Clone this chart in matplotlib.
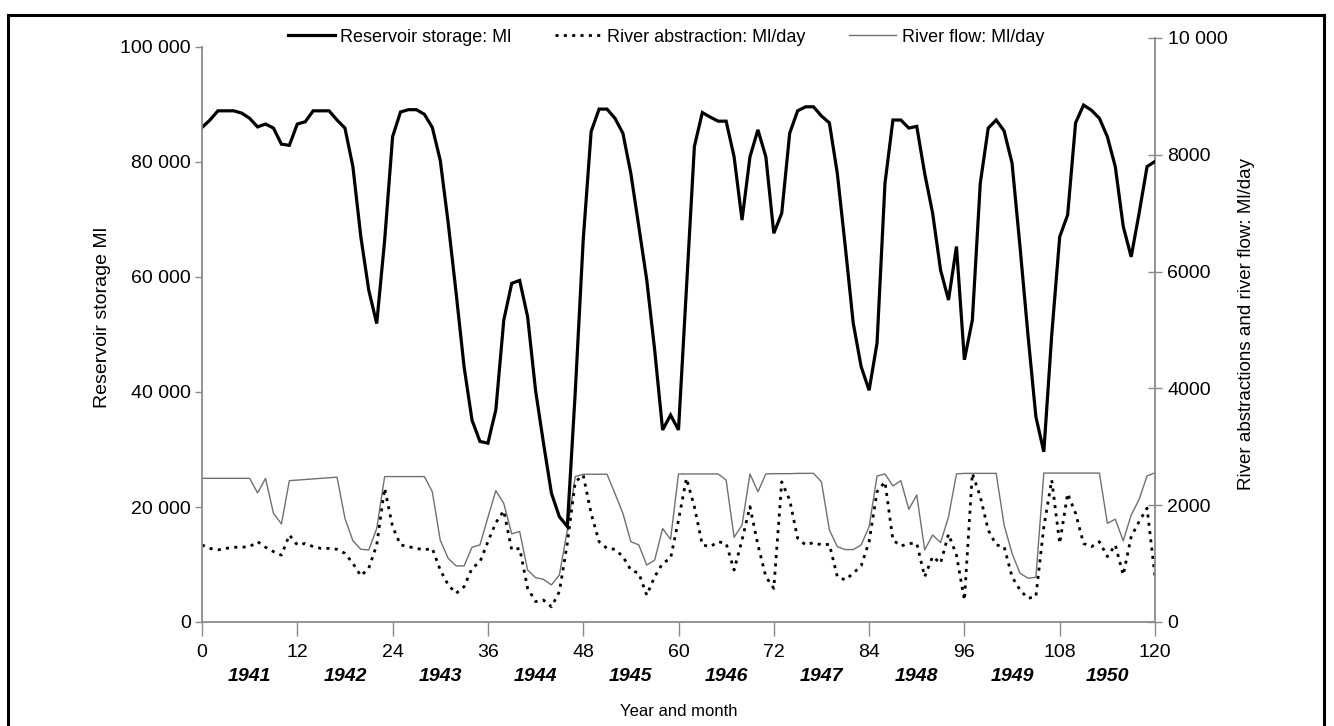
import numpy as np
import matplotlib
matplotlib.use("Agg")
import matplotlib.pyplot as plt
from matplotlib.lines import Line2D
from matplotlib.ticker import FuncFormatter

plt.rcParams["font.family"] = ["Liberation Sans", "DejaVu Sans"]

# --- data: monthly values, month 0 = start of 1941 ---
months = np.arange(0, 121)

storage_ml = [
    86000, 87300, 88900, 88900, 88900, 88500, 87600, 86100, 86600, 85900,
    83100, 82900, 86600, 87000, 88900, 88900, 88900, 87300, 85900, 79200,
    67000, 57700, 51900, 66400, 84400, 88700, 89100, 89100, 88300, 86000,
    80300, 69400, 57200, 44400, 35100, 31400, 31100, 36900, 52500, 58900,
    59400, 53100, 40300, 31100, 22400, 18300, 16600, 40000, 66400, 85300,
    89200, 89200, 87600, 85000, 78000, 68800, 59500, 47300, 33400, 36000,
    33400, 58000, 82700, 88600, 87800, 87100, 87100, 80900, 69900, 80900,
    85600, 80900, 67600, 71100, 85000, 88900, 89600, 89600, 88000, 86800,
    78000, 65300, 52000, 44400, 40300, 48500, 76300, 87300, 87300, 85900,
    86200, 78000, 71100, 61200, 56000, 65300, 45600, 52500, 76300, 85900,
    87300, 85400, 79800, 65300, 50000, 35700, 29600, 50000, 67000, 70800,
    86800, 89900, 89000, 87600, 84400, 79200, 68800, 63500, 71100, 79200,
    80100,
]

abstraction_ml_day = [
    1320, 1260, 1235, 1260, 1280, 1280, 1290, 1375, 1280, 1205,
    1145, 1490, 1320, 1345, 1290, 1260, 1260, 1245, 1175, 1005,
    790, 920, 1320, 2290, 1630, 1320, 1290, 1260, 1235, 1260,
    890, 635, 490, 605, 920, 1030, 1375, 1700, 1905, 1235,
    1260, 580, 350, 375, 260, 520, 1345, 2400, 2515, 1860,
    1375, 1260, 1245, 1120, 890, 835, 460, 775, 1005, 1090,
    1745, 2460, 1975, 1320, 1290, 1375, 1345, 890, 1405, 1975,
    1320, 775, 575, 2400, 2090, 1435, 1320, 1360, 1320, 1330,
    775, 720, 835, 960, 1375, 2230, 2400, 1405, 1300, 1345,
    1345, 775, 1120, 1005, 1505, 1145, 375, 2545, 2145, 1575,
    1320, 1290, 775, 550, 405, 435, 1630, 2430, 1345, 2200,
    1860, 1345, 1290, 1375, 1120, 1320, 805, 1460, 1720, 1950,
    780,
]

flow_ml_day = [
    2460, 2460, 2460, 2460, 2460, 2460, 2460, 2210, 2460, 1860,
    1680, 2420, 2430, 2440, 2450, 2460, 2470, 2480, 1775, 1390,
    1245, 1235, 1600, 2490, 2490, 2490, 2490, 2490, 2490, 2230,
    1400, 1090, 960, 960, 1280, 1320, 1790, 2250, 2030, 1510,
    1550, 890, 760, 730, 635, 805, 1575, 2490, 2530, 2530,
    2530, 2530, 2200, 1860, 1375, 1320, 975, 1060, 1600, 1415,
    2535, 2535, 2535, 2535, 2535, 2535, 2430, 1450, 1660, 2535,
    2230, 2535, 2540, 2540, 2540, 2545, 2545, 2545, 2400, 1575,
    1290, 1240, 1240, 1320, 1630, 2500, 2535, 2330, 2420, 1930,
    2175, 1235, 1490, 1360, 1800, 2535, 2545, 2545, 2545, 2545,
    2545, 1660, 1175, 835, 750, 765, 2550, 2550, 2550, 2550,
    2550, 2550, 2550, 2550, 1690, 1760, 1390, 1830, 2100, 2500,
    2555,
]

year_labels = ["1941", "1942", "1943", "1944", "1945",
               "1946", "1947", "1948", "1949", "1950"]

x_ticks = np.arange(0, 121, 12)
left_ticks = np.arange(0, 100001, 20000)
right_ticks = np.arange(0, 10001, 2000)

# --- figure layout (pixel based) ---
W, H = 1334, 726
fig = plt.figure(figsize=(W / 100, H / 100), dpi=100)
ax = fig.add_axes([202 / W, 1 - 622 / H, 953 / W, 575 / H])
ax2 = fig.add_axes([202 / W, 1 - 622 / H, 953 / W, 584 / H], sharex=ax)

axis_grey = "#8a8a8a"

# --- river series on the right axis ---
flow_line, = ax2.plot(months, flow_ml_day, color="#707070", lw=1.0)
abs_line, = ax2.plot(months, abstraction_ml_day, color="black", lw=2.0,
                     linestyle=(0, (1.1, 1.9)), dash_capstyle="butt")
ax2.set_ylim(0, 10000)
ax2.set_yticks(right_ticks)
ax2.yaxis.set_major_formatter(
    FuncFormatter(lambda v, p: "10 000" if v >= 10000 else f"{v:.0f}"))
ax2.yaxis.tick_right()
ax2.yaxis.set_label_position("right")
ax2.tick_params(axis="y", direction="inout", length=10, width=1,
                color=axis_grey, labelsize=14, pad=4)
ax2.xaxis.set_visible(False)
for side in ["left", "top", "bottom"]:
    ax2.spines[side].set_visible(False)
ax2.spines["right"].set_color(axis_grey)
ax2.spines["right"].set_linewidth(1.3)
ax2.set_ylabel("River abstractions and river flow: Ml/day", fontsize=13.5,
               rotation=90)
ax2.yaxis.set_label_coords(1.087, 0.51)

# --- reservoir storage on the left axis, drawn on top ---
ax.set_zorder(ax2.get_zorder() + 1)
ax.patch.set_visible(False)
store_line, = ax.plot(months, storage_ml, color="black", lw=2.3,
                      solid_joinstyle="miter")
ax.set_xlim(0, 120)
ax.set_ylim(0, 100000)
ax.set_xticks(x_ticks)
ax.set_yticks(left_ticks)
ax.yaxis.set_major_formatter(
    FuncFormatter(lambda v, p: f"{v:,.0f}".replace(",", " ")))
ax.tick_params(axis="y", direction="out", length=5, width=1,
               color=axis_grey, labelsize=14, pad=3)
ax.tick_params(axis="x", direction="out", length=10, width=1,
               color=axis_grey, labelsize=14, pad=6)
for side in ["top", "right"]:
    ax.spines[side].set_visible(False)
for side in ["left", "bottom"]:
    ax.spines[side].set_color(axis_grey)
    ax.spines[side].set_linewidth(1.3)

ax.set_ylabel("Reservoir storage Ml", fontsize=14)
ax.yaxis.set_label_coords(-0.095, 0.53)
ax.set_xlabel("Year and month", fontsize=12)
ax.xaxis.set_label_coords(0.5, -0.143)

# year labels under the month ticks, centred in each year
for i, yr in enumerate(year_labels):
    ax.text(12 * i + 6, -0.094, yr, transform=ax.get_xaxis_transform(),
            ha="center", va="center", fontsize=14, fontweight="bold",
            fontstyle="italic")

# --- legend across the top ---
fig.legend([store_line, abs_line, flow_line],
           ["Reservoir storage: Ml", "River abstraction: Ml/day",
            "River flow: Ml/day"],
           loc="center", bbox_to_anchor=(666 / W, 1 - 37 / H), ncol=3,
           frameon=False, fontsize=13, handlelength=2.6,
           handletextpad=0.3, columnspacing=2.4)

# --- black frame round the figure ---
frame_kw = dict(color="black", lw=2.2, transform=fig.transFigure)
fig.add_artist(Line2D([8 / W, 8 / W], [0, 1 - 15 / H], **frame_kw))
fig.add_artist(Line2D([8 / W, 1324 / W], [1 - 15 / H, 1 - 15 / H], **frame_kw))
fig.add_artist(Line2D([1324 / W, 1324 / W], [0, 1 - 15 / H], **frame_kw))

fig.savefig("out.png", dpi=100)
